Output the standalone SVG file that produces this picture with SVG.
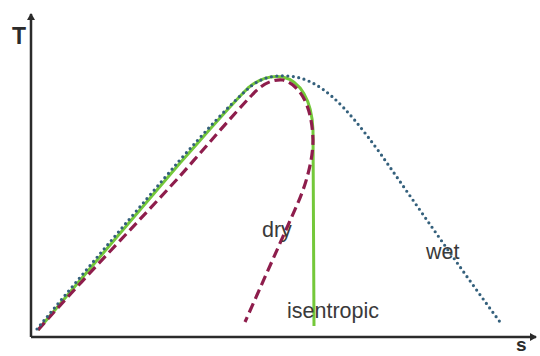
<svg xmlns="http://www.w3.org/2000/svg" width="540" height="356" viewBox="0 0 540 356">
<style>
.axis{stroke:#2b2b2b;stroke-width:2.5;fill:none}
.lbl{font-family:"Liberation Sans",Arial,sans-serif;fill:#3a3a3a;font-size:21.5px}
.ax{font-family:"Liberation Sans",Arial,sans-serif;fill:#2b2b2b;font-weight:bold}
.green{stroke:#74c83a;stroke-width:3;fill:none}
.dry{stroke:#8e1d4c;stroke-width:3.2;fill:none;stroke-dasharray:10 5}
.wet{stroke:#34607c;stroke-width:3.2;fill:none;stroke-dasharray:0 5.5;stroke-linecap:round}
</style>
<defs>
<marker id="arr" markerWidth="8" markerHeight="8" refX="6" refY="4" orient="auto" markerUnits="userSpaceOnUse">
<path d="M0,0 L7,4 L0,8 Z" fill="#2b2b2b"/>
</marker>
</defs>
<g id="axes">
<path class="axis" d="M31,337 L31,14" marker-end="url(#arr)"/>
<path class="axis" d="M31,337 L536,337" marker-end="url(#arr)"/>
<text class="ax" x="12" y="44" font-size="23">T</text>
<text class="ax" x="516" y="351" font-size="19">s</text>
</g>
<g id="connectors">
<path id="isentropic-curve" class="green" d="M38,330 C85,274 140,210 180,163 C205,135 228,108 248,88 C260,78 272,75 283,77 C300,81 312,100 313,130 L314,326"/>
<path id="dry-curve" class="dry" d="M38,330 C85,277 140,220 180,176 C205,148 230,118 252,95 C262,84 272,79 283,80 C300,85 312,105 313,140 C313,160 306,185 297,205 L245,322"/>
<path id="wet-curve" class="wet" d="M37,329 C84,272 139,208 179,161 C204,133 228,106 250,87 C262,77 275,75 288,76 C320,78 345,105 380,153 C420,210 460,268 500,322"/>
</g>
<g id="label-dry"><text class="lbl" x="262" y="237">dry</text></g>
<g id="label-wet"><text class="lbl" x="426" y="259">wet</text></g>
<g id="label-isentropic"><text class="lbl" x="287" y="318">isentropic</text></g>
</svg>
